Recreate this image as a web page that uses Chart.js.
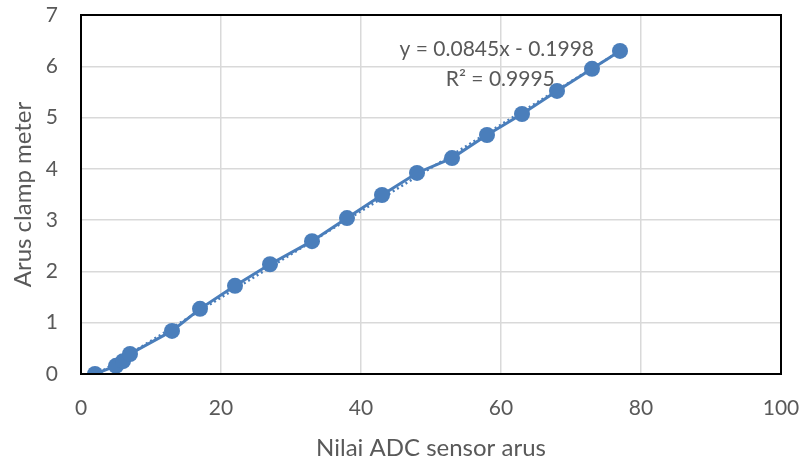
<!DOCTYPE html>
<html>
<head>
<meta charset="utf-8">
<script src="https://cdn.jsdelivr.net/npm/chart.js@4/dist/chart.umd.min.js"></script>
<style>
  html, body { margin: 0; padding: 0; background: #fff; }
  #wrap { width: 803px; height: 458px; }
</style>
</head>
<body>
<div id="wrap"><canvas id="chart" width="803" height="458"></canvas></div>
<script>
// data
const adcValues = [2, 5, 6, 7, 13, 17, 22, 27, 33, 38, 43, 48, 53, 58, 63, 68, 73, 77];
const clampValues = [0, 0.16, 0.25, 0.39, 0.84, 1.27, 1.72, 2.14, 2.59, 3.04, 3.49, 3.92, 4.21, 4.66, 5.07, 5.52, 5.95, 6.3];
const trendLabels = ['y = 0.0845x - 0.1998', 'R² = 0.9995'];
const xTitle = 'Nilai ADC sensor arus';
const yTitle = 'Arus clamp meter';

const blue = '#4a7ebb';
const grey = '#595959';
const fontFamily = 'Lato, "Open Sans", sans-serif';

const points = adcValues.map((x, i) => ({ x: x, y: clampValues[i] }));

// least squares line through the points (the trendline)
const n = points.length;
const sx = adcValues.reduce((a, b) => a + b, 0);
const sy = clampValues.reduce((a, b) => a + b, 0);
const sxy = points.reduce((a, p) => a + p.x * p.y, 0);
const sxx = adcValues.reduce((a, b) => a + b * b, 0);
const slope = (n * sxy - sx * sy) / (n * sxx - sx * sx);
const icpt = (sy - slope * sx) / n;
const xMin = Math.min(...adcValues), xMax = Math.max(...adcValues);
const trend = [{ x: xMin, y: slope * xMin + icpt }, { x: xMax, y: slope * xMax + icpt }];

// frame around plot area + trendline label
const framePlugin = {
  id: 'frame',
  afterDatasetsDraw(chart) {
    const { ctx, chartArea: a } = chart;
    ctx.save();
    ctx.strokeStyle = '#000';
    ctx.lineWidth = 2;
    ctx.strokeRect(a.left, a.top, a.right - a.left, a.bottom - a.top);
    ctx.fillStyle = grey;
    ctx.font = '21px ' + fontFamily;
    ctx.textAlign = 'center';
    ctx.textBaseline = 'middle';
    const xs = chart.scales.x, ys = chart.scales.y;
    ctx.fillText(trendLabels[0], xs.getPixelForValue(59.4), ys.getPixelForValue(6.33));
    ctx.fillText(trendLabels[1], xs.getPixelForValue(59.9), ys.getPixelForValue(5.75));
    ctx.restore();
  }
};

new Chart(document.getElementById('chart'), {
  type: 'scatter',
  data: {
    datasets: [
      {
        label: 'data',
        data: points,
        showLine: true,
        borderColor: blue,
        backgroundColor: blue,
        borderWidth: 3,
        pointRadius: 8,
        pointHoverRadius: 8,
        pointBorderWidth: 0
      },
      {
        label: 'trend',
        data: trend,
        showLine: true,
        borderColor: blue,
        borderWidth: 2.5,
        borderDash: [2, 3],
        pointRadius: 0
      }
    ]
  },
  options: {
    responsive: false,
    animation: false,
    layout: { padding: { top: 15, right: 22, left: 0, bottom: 0 } },
    plugins: { legend: { display: false }, tooltip: { enabled: false } },
    scales: {
      x: {
        type: 'linear',
        min: 0, max: 100,
        ticks: { stepSize: 20, color: grey, font: { size: 21, family: fontFamily }, padding: 22 },
        grid: { color: '#d9d9d9', lineWidth: 1.5, drawTicks: false },
        border: { display: false },
        title: { display: true, text: xTitle, color: grey, font: { size: 24, family: fontFamily }, padding: { top: 0, bottom: -5 } },
        afterFit(s) { s.height = 84; s.paddingLeft = 0; s.paddingRight = 0; }
      },
      y: {
        min: 0, max: 7,
        ticks: { stepSize: 1, color: grey, font: { size: 21, family: fontFamily }, padding: 23 },
        grid: { color: '#d9d9d9', lineWidth: 1.5, drawTicks: false },
        border: { display: false },
        title: { display: true, text: yTitle, color: grey, font: { size: 24, family: fontFamily }, padding: { top: 9, bottom: 0 } },
        afterFit(s) { s.width = 81; s.paddingTop = 0; s.paddingBottom = 0; }
      }
    }
  },
  plugins: [framePlugin]
});
</script>
</body>
</html>
